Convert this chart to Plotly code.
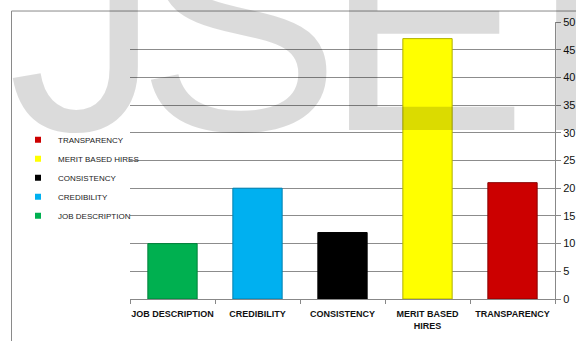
import plotly.graph_objects as go

categories = ["JOB DESCRIPTION", "CREDIBILITY", "CONSISTENCY", "MERIT BASED<br>HIRES", "TRANSPARENCY"]
legend_names = ["JOB DESCRIPTION", "CREDIBILITY", "CONSISTENCY", "MERIT BASED HIRES", "TRANSPARENCY"]
values = [10, 20, 12, 47, 21]
colors = ["#00b050", "#00b0f0", "#000000", "#ffff00", "#cc0000"]
edge_colors = ["#00803a", "#0080b0", "#000000", "#b0b000", "#8a0000"]
y_ticks = [0, 5, 10, 15, 20, 25, 30, 35, 40, 45, 50]
watermark_letters = ["J", "S", "E", "I"]

W, H = 576, 341
L, R, T, B = 130, 21, 21.5, 42
pw, ph = W - L - R, H - T - B

def px(x):
    return (x - L) / pw

def py(y):
    return (H - B - y) / ph

fig = go.Figure()
for i in range(len(categories)):
    fig.add_trace(go.Bar(
        x=[categories[i]], y=[values[i]], name=legend_names[i], showlegend=False,
        marker=dict(color=colors[i], line=dict(color=edge_colors[i], width=1)),
        width=0.58,
    ))
# legend entries with small square keys
for i in range(len(categories)):
    fig.add_trace(go.Scatter(
        x=[None], y=[None], mode="markers", name=legend_names[i],
        marker=dict(symbol="square", size=6, color=colors[i]),
    ))

font_fam = "Liberation Sans Narrow, Liberation Sans, Arial, sans-serif"
fig.update_layout(
    width=W, height=H,
    margin=dict(l=L, r=R, t=T, b=B, autoexpand=False),
    paper_bgcolor="white", plot_bgcolor="white",
    showlegend=True,
    barmode="overlay",
    legend=dict(x=px(18), y=py(125), xanchor="left", yanchor="top",
                traceorder="reversed", font=dict(size=8, family=font_fam, color="#222"),
                itemwidth=30, bgcolor="rgba(0,0,0,0)", tracegroupgap=0),
    xaxis=dict(categoryorder="array", categoryarray=categories,
               showline=True, linecolor="#888", linewidth=1,
               ticks="outside", tickson="boundaries", ticklen=4, tickcolor="#888",
               tickangle=0, automargin=False, ticklabelstandoff=6,
               tickfont=dict(size=9, family=font_fam, color="#111", weight="bold"),
               showgrid=False, fixedrange=True),
    yaxis=dict(side="right", range=[0, 50], tickvals=y_ticks,
               showline=True, linecolor="#888", linewidth=1,
               ticks="outside", ticklen=5, tickcolor="#888",
               showgrid=True, gridcolor="#8c8c8c", gridwidth=1,
               zeroline=False, automargin=False,
               tickfont=dict(size=11, family="Liberation Sans, Arial, sans-serif", color="#111"),
               fixedrange=True),
)

# chart-area border (top and left)
fig.add_shape(type="line", xref="paper", yref="paper", x0=px(11.5), x1=px(600), y0=py(10.5), y1=py(10.5),
              line=dict(color="#8a8a8a", width=1))
fig.add_shape(type="line", xref="paper", yref="paper", x0=px(11.5), x1=px(11.5), y0=py(10.5), y1=py(360),
              line=dict(color="#8a8a8a", width=1))

# watermark letters
wm_x = [84, 238, 425, 570]
for letter, xx in zip(watermark_letters, wm_x):
    fig.add_annotation(text=letter, xref="paper", yref="paper", x=px(xx), y=py(197),
                       xanchor="center", yanchor="bottom", showarrow=False,
                       font=dict(size=305, family="Liberation Sans, Arial, sans-serif",
                                 color="rgba(0,0,0,0.14)"))

fig.write_html("out.html")
